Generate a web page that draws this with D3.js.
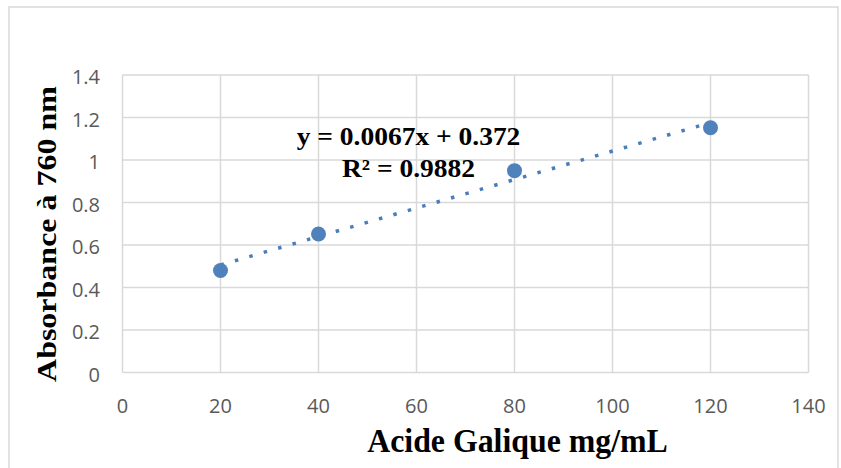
<!DOCTYPE html>
<html>
<head>
<meta charset="utf-8">
<script src="https://d3js.org/d3.v7.min.js"></script>
<style>
  body { margin: 0; background: #fff; }
  .grid line { stroke: #d9d9d9; stroke-width: 1.5px; }
  .tick-label { font-family: "Open Sans", "Noto Sans", sans-serif; font-size: 20px; fill: #595959; }
  .title { font-family: "Liberation Serif", "Times New Roman", serif; font-weight: bold; fill: #000; }
</style>
</head>
<body>
<svg width="841" height="468"></svg>
<script>
// values
var concentrations = [20, 40, 80, 120];
var absorbances = [0.48, 0.652, 0.950, 1.152];
var xTicks = [0, 20, 40, 60, 80, 100, 120, 140];
var yTicks = [0, 0.2, 0.4, 0.6, 0.8, 1, 1.2, 1.4];
var slope = 0.0067, intercept = 0.372;
var trendRange = [20, 120];
var equationLines = ["y = 0.0067x + 0.372", "R\u00b2 = 0.9882"];

var svg = d3.select("svg");

// chart area border
svg.append("rect")
  .attr("x", 9).attr("y", 7)
  .attr("width", 829).attr("height", 470)
  .attr("fill", "none")
  .attr("stroke", "#d9d9d9")
  .attr("stroke-width", 1.5);

var x = d3.scaleLinear().domain([0, 140]).range([122.5, 808.5]);
var y = d3.scaleLinear().domain([0, 1.4]).range([372.5, 75]);

var grid = svg.append("g").attr("class", "grid");
grid.selectAll(".h").data(yTicks).enter().append("line")
  .attr("x1", x(0)).attr("x2", x(140))
  .attr("y1", function(d){ return y(d); })
  .attr("y2", function(d){ return y(d); });
grid.selectAll(".v").data(xTicks).enter().append("line")
  .attr("y1", y(0)).attr("y2", y(1.4))
  .attr("x1", function(d){ return x(d); })
  .attr("x2", function(d){ return x(d); });

// tick labels
svg.selectAll(".ylab").data(yTicks).enter().append("text")
  .attr("class", "tick-label")
  .attr("x", 100)
  .attr("y", function(d){ return y(d) + 9; })
  .attr("text-anchor", "end")
  .text(function(d){ return d; });

svg.selectAll(".xlab").data(xTicks).enter().append("text")
  .attr("class", "tick-label")
  .attr("x", function(d){ return x(d); })
  .attr("y", 413)
  .attr("text-anchor", "middle")
  .text(function(d){ return d; });

// linear trendline (dotted)
var line = d3.line()
  .x(function(d){ return x(d); })
  .y(function(d){ return y(slope * d + intercept); });
svg.append("path")
  .attr("d", line(trendRange))
  .attr("fill", "none")
  .attr("stroke", "#4a7ebb")
  .attr("stroke-width", 3.5)
  .attr("stroke-dasharray", "3.5 11.5");

// markers
svg.selectAll(".pt").data(concentrations).enter().append("circle")
  .attr("cx", function(d){ return x(d); })
  .attr("cy", function(d, i){ return y(absorbances[i]); })
  .attr("r", 7.5)
  .attr("fill", "#4f81bd");

// equation label (looks a bit stretched in the original)
svg.selectAll(".eq").data(equationLines).enter().append("text")
  .attr("class", "title")
  .attr("transform", function(d, i){ return "translate(408.5," + (144.5 + i * 32) + ") scale(1.1,1)"; })
  .attr("text-anchor", "middle")
  .style("font-size", "25px")
  .text(function(d){ return d; });

// axis titles
svg.append("text")
  .attr("class", "title")
  .attr("transform", "translate(517.5,452) scale(0.965,1)")
  .attr("text-anchor", "middle")
  .style("font-size", "33px")
  .text("Acide Galique mg/mL");

svg.append("text")
  .attr("class", "title")
  .attr("transform", "translate(56,234) rotate(-90) scale(1,0.84)")
  .attr("text-anchor", "middle")
  .style("font-size", "32px")
  .text("Absorbance à 760 nm");
</script>
</body>
</html>
